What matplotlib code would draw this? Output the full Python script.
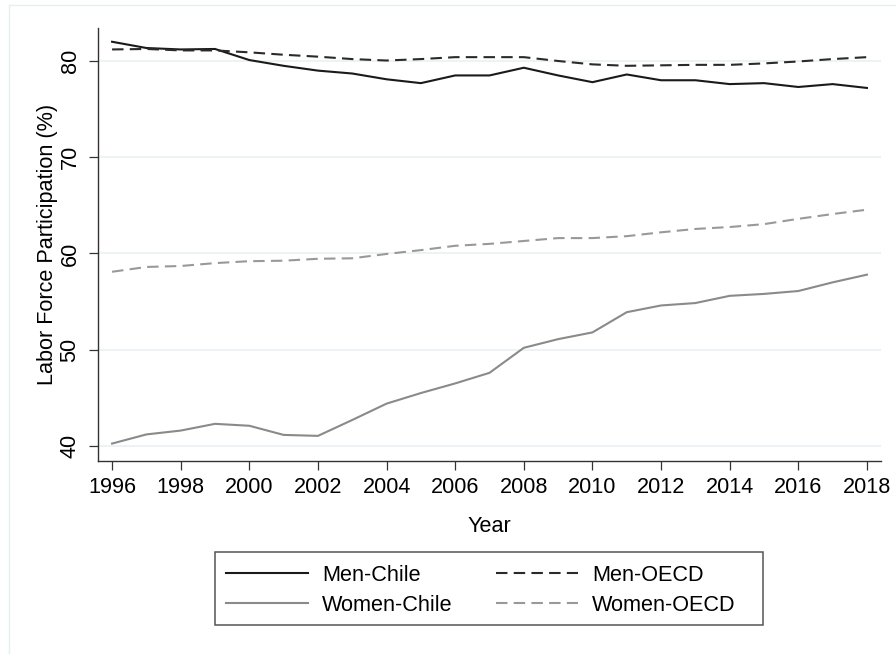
import matplotlib.pyplot as plt
from matplotlib.lines import Line2D
from matplotlib.patches import Rectangle

plt.rcParams['font.family'] = ['Liberation Sans', 'DejaVu Sans']

# data
years = list(range(1996, 2019))
men_chile = [82.0, 81.35, 81.2, 81.25, 80.1, 79.5, 79.0, 78.7, 78.1, 77.7, 78.5, 78.5,
             79.3, 78.5, 77.8, 78.6, 78.0, 78.0, 77.6, 77.7, 77.3, 77.6, 77.2]
men_oecd = [81.2, 81.25, 81.1, 81.1, 80.9, 80.65, 80.45, 80.2, 80.05, 80.2, 80.4, 80.4,
            80.4, 80.0, 79.65, 79.5, 79.55, 79.6, 79.6, 79.75, 79.95, 80.2, 80.4]
women_chile = [40.25, 41.2, 41.6, 42.3, 42.1, 41.15, 41.05, 42.7, 44.4, 45.5, 46.5, 47.6,
               50.2, 51.1, 51.8, 53.9, 54.6, 54.85, 55.6, 55.8, 56.1, 57.0, 57.8]
women_oecd = [58.1, 58.6, 58.7, 59.0, 59.2, 59.25, 59.45, 59.5, 59.95, 60.35, 60.8, 61.0,
              61.3, 61.6, 61.6, 61.8, 62.2, 62.55, 62.75, 63.05, 63.6, 64.1, 64.55]
xticks = list(range(1996, 2019, 2))
yticks = [40, 50, 60, 70, 80]

W, H = 896, 654
fig = plt.figure(figsize=(W / 100, H / 100), dpi=100)

# faint outer frame (top and left only visible)
fig.add_artist(Line2D([9 / W, 1], [1 - 4.5 / H, 1 - 4.5 / H], color='#e6eef0', lw=1))
fig.add_artist(Line2D([9 / W, 9 / W], [0, 1 - 4.5 / H], color='#e6eef0', lw=1))

ax = fig.add_axes([98 / W, 1 - 460.7 / H, (881 - 98) / W, (460.7 - 27.7) / H])

dash = (0, (5.5, 3))
ax.plot(years, men_chile, color='#1a1a1a', lw=1.5, label='Men-Chile')
ax.plot(years, women_chile, color='#8a8a8a', lw=1.5, label='Women-Chile')
ax.plot(years, men_oecd, color='#2a2a2a', lw=1.5, ls=dash, label='Men-OECD')
ax.plot(years, women_oecd, color='#999999', lw=1.5, ls=dash, label='Women-OECD')

ax.set_xlim(1995.59, 2018.41)
ax.set_ylim(38.47, 83.46)
ax.set_xticks(xticks)
ax.set_yticks(yticks)
ax.grid(axis='y', color='#e8f0f2', lw=1.1)
ax.set_axisbelow(True)

for s in ['top', 'right']:
    ax.spines[s].set_visible(False)
for s in ['left', 'bottom']:
    ax.spines[s].set_color('#333333')
    ax.spines[s].set_linewidth(1.0)

ax.tick_params(axis='both', length=6.5, width=0.9, color='#333333', labelsize=15.6, pad=5)
ax.tick_params(axis='y', pad=6)
for lab in ax.get_yticklabels():
    lab.set_rotation(90)
    lab.set_va('center')

ax.set_xlabel('Year', fontsize=15.6, va='center')
ax.xaxis.set_label_coords(0.5, (460.7 - 527) / 433)
ax.set_ylabel('Labor Force Participation (%)', fontsize=15.6, va='center')
ax.yaxis.set_label_coords((47 - 98) / 783, 0.5)

# legend box drawn separately so its size matches the original
fig.add_artist(Rectangle((215 / W, 1 - 625 / H), (763 - 215) / W, (625 - 552) / H,
                         transform=fig.transFigure, facecolor='white',
                         edgecolor='#555555', lw=1.1))
leg = fig.legend(*ax.get_legend_handles_labels(), ncol=2, loc='center left',
                 bbox_to_anchor=(226 / W, 1 - 590.5 / H), fontsize=15.6,
                 handlelength=3.8, handletextpad=0.64, columnspacing=2.0,
                 labelspacing=0.41, borderpad=0, borderaxespad=0, frameon=False)

fig.savefig('out.png', dpi=100)
